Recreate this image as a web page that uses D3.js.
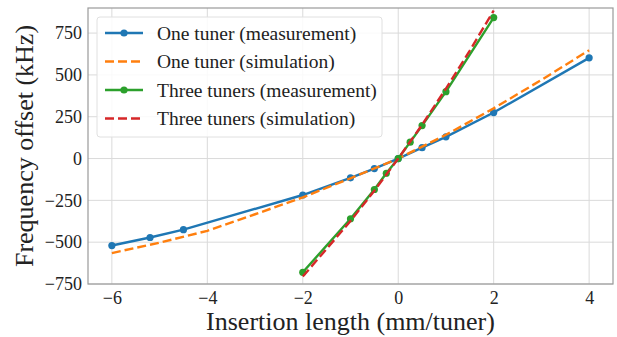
<!DOCTYPE html>
<html>
<head>
<meta charset="utf-8">
<script src="https://cdn.jsdelivr.net/npm/d3@7"></script>
<style>
  body { margin: 0; background: #fff; }
</style>
</head>
<body>
<div id="chart"></div>
<script>
const width = 617
const height = 337
const margin = {top: 8, right: 4, bottom: 53, left: 88}
const serif = '"Liberation Serif"'

// one tuner, measurement
const oneMeasX = [-6, -5.2, -4.5, -2, -1, -0.5, 0, 0.5, 1, 2, 4]
const oneMeasY = [-520, -472, -425, -218, -115, -60, 0, 65, 130, 275, 602]

// one tuner, simulation
const oneSimX = [-6, -5, -4, -3, -2, -1, 0, 1, 2, 3, 4]
const oneSimY = [-565, -503, -432, -333, -232, -118, 0, 142, 300, 470, 648]

// three tuners, measurement
const threeMeasX = [-2, -1, -0.5, -0.25, 0, 0.25, 0.5, 1, 2]
const threeMeasY = [-680, -360, -185, -88, 0, 98, 197, 400, 843]

// three tuners, simulation
const threeSimX = [-2, -1.5, -1, -0.5, 0, 0.5, 1, 1.5, 2]
const threeSimY = [-705, -540, -373, -192, 0, 202, 418, 645, 885]

const xTicks = [-6, -4, -2, 0, 2, 4]
const yTicks = [-750, -500, -250, 0, 250, 500, 750]

const seriesNames = ["One tuner (measurement)", "One tuner (simulation)",
  "Three tuners (measurement)", "Three tuners (simulation)"]
const seriesColors = ["#1f77b4", "#ff7f0e", "#2ca02c", "#d62728"]

const series = [
  {xs: oneMeasX, ys: oneMeasY, dashed: false, markers: true},
  {xs: oneSimX, ys: oneSimY, dashed: true, markers: false},
  {xs: threeMeasX, ys: threeMeasY, dashed: false, markers: true},
  {xs: threeSimX, ys: threeSimY, dashed: true, markers: false}
].map((s, i) => ({...s, name: seriesNames[i], color: seriesColors[i],
  points: s.xs.map((x, j) => [x, s.ys[j]])}))

const svg = d3.select("#chart").append("svg")
  .attr("width", width)
  .attr("height", height)

const x = d3.scaleLinear()
  .domain([-6.5, 4.5])
  .range([margin.left, width - margin.right])

const y = d3.scaleLinear()
  .domain([-750, 900])
  .range([height - margin.bottom, margin.top])

const fmt = d => d < 0 ? "\u2212" + Math.abs(d) : String(d)

/* grid */

svg.append("g")
  .selectAll("line")
  .data(xTicks)
  .join("line")
  .attr("x1", d => x(d)).attr("x2", d => x(d))
  .attr("y1", margin.top).attr("y2", height - margin.bottom)
  .attr("stroke", "#dadada").attr("stroke-width", 1)

svg.append("g")
  .selectAll("line")
  .data(yTicks)
  .join("line")
  .attr("y1", d => y(d)).attr("y2", d => y(d))
  .attr("x1", margin.left).attr("x2", width - margin.right)
  .attr("stroke", "#dadada").attr("stroke-width", 1)

/* axes */

const xAxis = svg.append("g")
  .attr("transform", `translate(0,${height - margin.bottom})`)
  .call(d3.axisBottom(x).tickValues(xTicks).tickFormat(fmt).tickSize(0).tickPadding(7))

const yAxis = svg.append("g")
  .attr("transform", `translate(${margin.left},0)`)
  .call(d3.axisLeft(y).tickValues(yTicks).tickFormat(fmt).tickSize(0).tickPadding(6))

for (const ax of [xAxis, yAxis]) {
  ax.attr("font-family", serif).attr("font-size", 18)
  ax.select(".domain").remove()
  ax.selectAll("text")
    .style("font-family", serif)
    .style("font-size", "18px")
    .attr("fill", "#222")
}

/* frame */

svg.append("rect")
  .attr("x", margin.left).attr("y", margin.top)
  .attr("width", width - margin.left - margin.right)
  .attr("height", height - margin.top - margin.bottom)
  .attr("fill", "none")
  .attr("stroke", "#9a9a9a")
  .attr("stroke-width", 1.2)

/* series */

svg.append("defs").append("clipPath").attr("id", "clip")
  .append("rect")
  .attr("x", margin.left).attr("y", margin.top)
  .attr("width", width - margin.left - margin.right)
  .attr("height", height - margin.top - margin.bottom)

const line = d3.line().x(d => x(d[0])).y(d => y(d[1]))

const plot = svg.append("g").attr("clip-path", "url(#clip)")

for (const s of series) {
  plot.append("path")
    .datum(s.points)
    .attr("d", line)
    .attr("fill", "none")
    .attr("stroke", s.color)
    .attr("stroke-width", 2.4)
    .attr("stroke-dasharray", s.dashed ? "9,4" : null)

  if (s.markers) {
    plot.append("g")
      .selectAll("circle")
      .data(s.points)
      .join("circle")
      .attr("cx", d => x(d[0]))
      .attr("cy", d => y(d[1]))
      .attr("r", 3.6)
      .attr("fill", s.color)
  }
}

/* labels */

svg.append("text")
  .attr("x", (margin.left + width - margin.right) / 2)
  .attr("y", 330)
  .attr("text-anchor", "middle")
  .style("font-family", serif)
  .style("font-size", "26px")
  .attr("fill", "#222")
  .text("Insertion length (mm/tuner)")

svg.append("text")
  .attr("transform", `translate(33,${(margin.top + height - margin.bottom) / 2}) rotate(-90)`)
  .attr("text-anchor", "middle")
  .style("font-family", serif)
  .style("font-size", "26px")
  .attr("fill", "#222")
  .text("Frequency offset (kHz)")

/* legend */

const legend = svg.append("g")

legend.append("rect")
  .attr("x", 97).attr("y", 17)
  .attr("width", 285).attr("height", 120)
  .attr("rx", 3)
  .attr("fill", "#fff").attr("fill-opacity", 0.85)
  .attr("stroke", "#e0e0e0")

const item = legend.selectAll("g")
  .data(series)
  .join("g")
  .attr("transform", (d, i) => `translate(105,${33 + i * 28.5})`)

item.append("line")
  .attr("x1", 0).attr("x2", 38)
  .attr("stroke", d => d.color)
  .attr("stroke-width", 2.4)
  .attr("stroke-dasharray", d => d.dashed ? "9,4" : null)

item.filter(d => d.markers).append("circle")
  .attr("cx", 19).attr("r", 3.6)
  .attr("fill", d => d.color)

item.append("text")
  .attr("x", 52).attr("dy", "0.35em")
  .style("font-family", serif)
  .style("font-size", "19.5px")
  .attr("fill", "#222")
  .text(d => d.name)
</script>
</body>
</html>
